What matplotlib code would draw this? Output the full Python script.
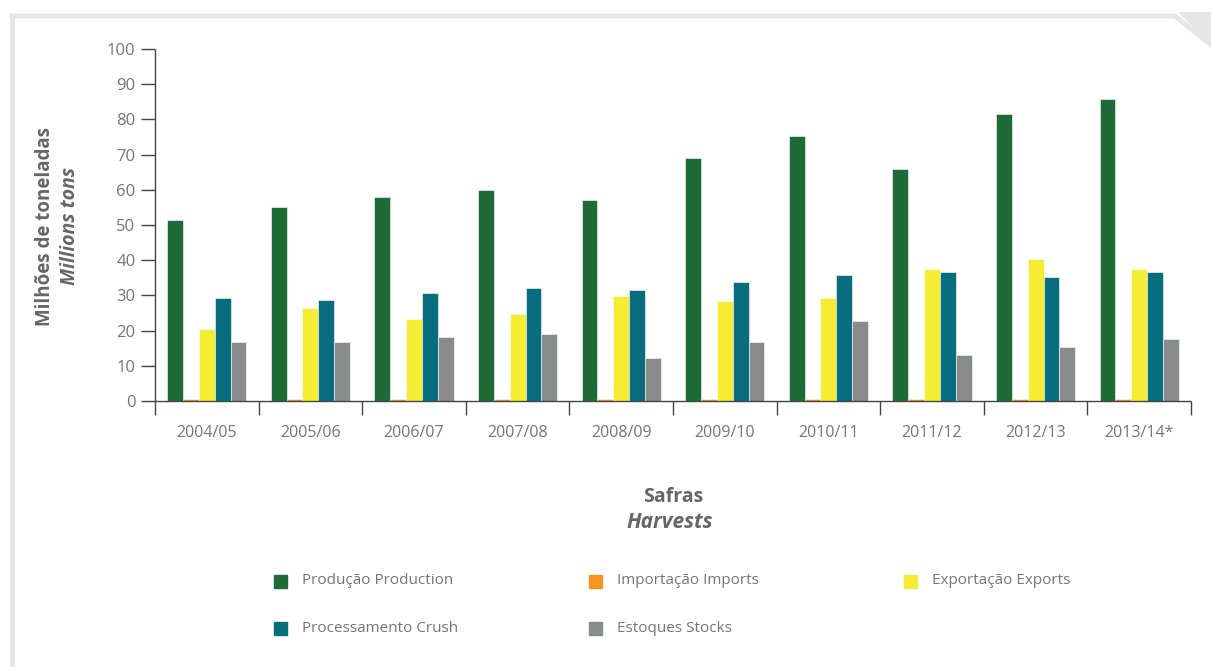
import numpy as np
import matplotlib.pyplot as plt
from matplotlib.patches import Polygon
from matplotlib.lines import Line2D

safras = ["2004/05", "2005/06", "2006/07", "2007/08", "2008/09",
          "2009/10", "2010/11", "2011/12", "2012/13", "2013/14*"]
producao = [51.4, 55.1, 57.9, 60.0, 57.1, 69.0, 75.3, 65.9, 81.5, 85.8]
importacao = [0.5, 0.5, 0.5, 0.5, 0.5, 0.5, 0.5, 0.5, 0.5, 0.5]
exportacao = [20.5, 26.4, 23.4, 24.8, 29.9, 28.5, 29.3, 37.4, 40.4, 37.4]
processamento = [29.3, 28.6, 30.7, 32.1, 31.5, 33.8, 35.8, 36.6, 35.2, 36.6]
estoques = [16.8, 16.8, 18.2, 19.0, 12.2, 16.8, 22.7, 13.1, 15.3, 17.6]

series = [
    ("Produção Production", producao, "#1e6b38"),
    ("Importação Imports", importacao, "#f7941d"),
    ("Exportação Exports", exportacao, "#f5ec33"),
    ("Processamento Crush", processamento, "#086d7f"),
    ("Estoques Stocks", estoques, "#898b8d"),
]

plt.rcParams['font.family'] = ['Open Sans', 'DejaVu Sans']
txt = "#747578"

fig = plt.figure(figsize=(12.11, 6.67), dpi=100)
W, H = 1211, 667

# page frame with folded corner
fig.add_artist(Line2D([12 / W, 12 / W], [0, 1 - 16 / H], transform=fig.transFigure,
                      color="#e6e6e6", lw=3.5))
fig.add_artist(Line2D([12 / W, 1175 / W, 1211 / W], [1 - 16 / H, 1 - 16 / H, 1 - 45 / H],
                      transform=fig.transFigure, color="#e6e6e6", lw=3.5))
fig.add_artist(Polygon([(1178 / W, 1 - 12 / H), (1, 1 - 12 / H), (1, 1 - 45 / H)],
                       closed=True, transform=fig.transFigure, color="#e6e6e6", lw=0))

ax = fig.add_axes([155 / W, 1 - 401 / H, (1191 - 155) / W, (401 - 49) / H])

x = np.arange(len(safras)) + 0.5
bw = 0.153
for i, (lab, vals, col) in enumerate(series):
    ax.bar(x + (i - 2) * bw, vals, bw, color=col, label=lab,
           edgecolor="white", linewidth=0.4)

ax.set_xlim(0, len(safras))
ax.set_ylim(0, 100)
ax.set_yticks(range(0, 101, 10))
ax.set_xticks(range(0, len(safras) + 1))
ax.set_xticklabels([])
ax.set_xticks(x, minor=True)
ax.set_xticklabels(safras, minor=True)
ax.tick_params(axis="x", which="major", direction="out", length=10, width=1, color="#444444")
ax.tick_params(axis="x", which="minor", length=0, pad=17, labelsize=11.5, labelcolor=txt)
ax.tick_params(axis="y", direction="out", length=10, width=1, color="#444444",
               labelsize=12, labelcolor=txt, pad=4)
for s in ["top", "right"]:
    ax.spines[s].set_visible(False)
for s in ["left", "bottom"]:
    ax.spines[s].set_color("#444444")
    ax.spines[s].set_linewidth(1)
    ax.spines[s].set_capstyle("butt")

# axis titles
fig.text(45 / W, 1 - 226 / H, "Milhões de toneladas", rotation=90, ha="center", va="center",
         fontsize=13.5, fontweight="bold", color="#666666")
fig.text(70 / W, 1 - 226 / H, "Millions tons", rotation=90, ha="center", va="center",
         fontsize=14, fontweight="bold", style="italic", color="#666666")
fig.text(673 / W, 1 - 497 / H, "Safras", ha="center", va="center",
         fontsize=14, fontweight="bold", color="#666666")
fig.text(670 / W, 1 - 522 / H, "Harvests", ha="center", va="center",
         fontsize=15, fontweight="bold", style="italic", color="#666666")

# legend laid out in a 3-column grid
pos = [(280, 581), (595, 581), (910, 581), (280, 628), (595, 628)]
for (lab, vals, col), (px, py) in zip(series, pos):
    fig.patches.append(plt.Rectangle(((px - 6) / W, 1 - (py + 7) / H), 13 / W, 13 / H,
                                     transform=fig.transFigure, color=col))
    fig.text((px + 22) / W, 1 - py / H, lab, ha="left", va="center",
             fontsize=11, color=txt)

fig.savefig("out.png", dpi=100)
